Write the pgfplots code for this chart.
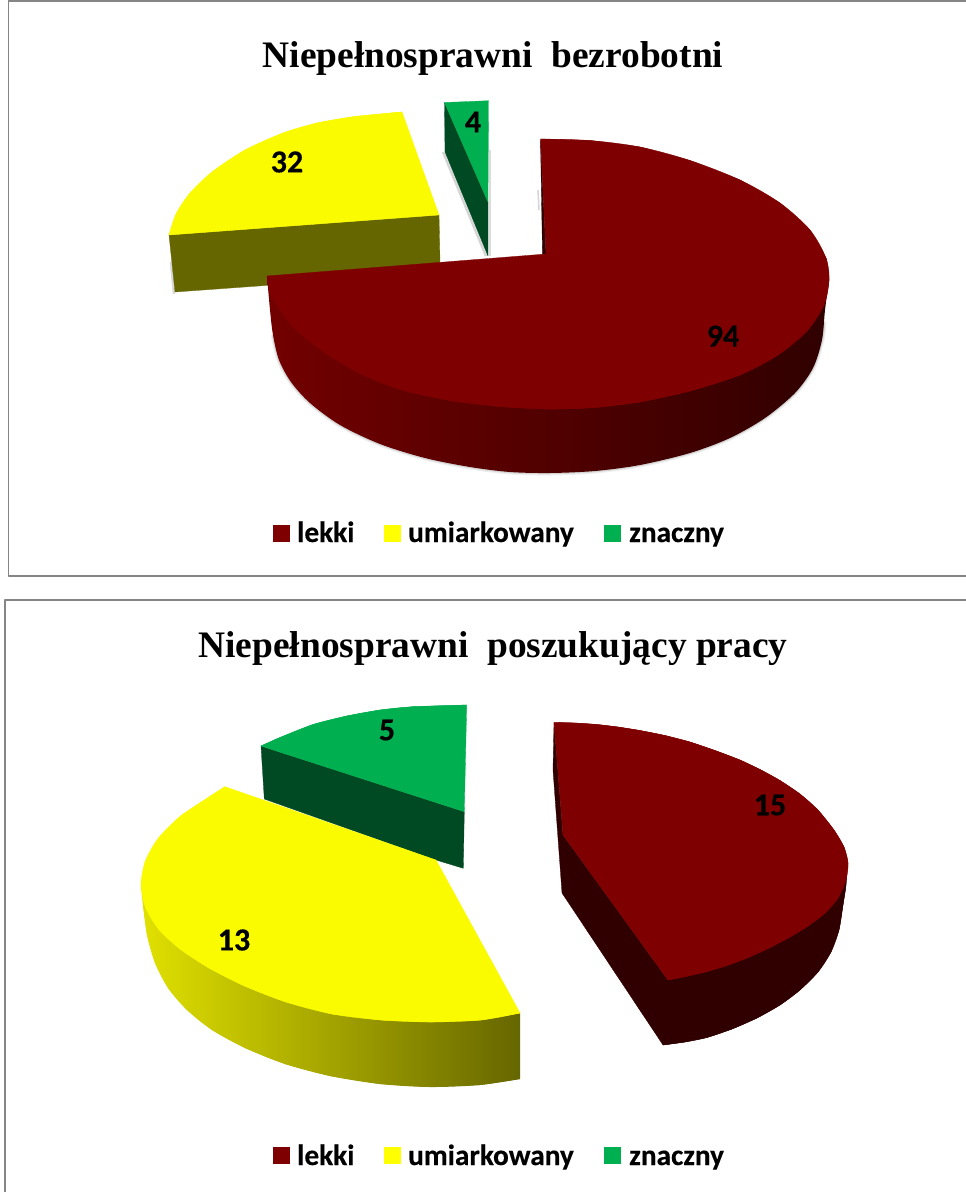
\documentclass[border=0pt]{standalone}
\usepackage{pgfplots}
\pgfplotsset{compat=1.18}
\usepackage{fontspec}
\setmainfont[BoldFeatures={FakeBold=0.35}]{Carlito}
\newfontfamily\titlefont{Liberation Serif}
\definecolor{rd}{HTML}{7F0000}
\definecolor{rdd}{HTML}{300000}
\definecolor{yl}{HTML}{FBFB00}
\definecolor{yll}{HTML}{FFFF00}
\definecolor{yld}{HTML}{666600}
\definecolor{gr}{HTML}{00B050}
\definecolor{grd}{HTML}{004A23}
\definecolor{fr}{HTML}{858585}
\pgfplotstableread{
x y
273 335
279 360
291 382
310 403
340 425
380 444
425 458
470 467
510 472
550 473
595 471
640 465
690 453
730 438
765 418
795 393
813 368
822 340
824 322
}\rimA
\newcommand{\ttl}[1]{{\titlefont\bfseries\fontsize{37.4}{42}\selectfont #1}}
\newcommand{\lab}[1]{{\bfseries\fontsize{29.3}{34}\selectfont #1}}
\newcommand{\val}[1]{{\bfseries\fontsize{32}{36}\selectfont #1}}
\begin{document}
\begin{tikzpicture}
\begin{axis}[hide axis,scale only axis,width=966pt,height=1192pt,
  xmin=0,xmax=966,ymin=0,ymax=1192,y dir=reverse,clip=true,no markers,
  every axis plot/.append style={line join=round}]
\addplot[draw=none,fill=white] coordinates {(0,0)(966,0)(966,1192)(0,1192)} --cycle;
% frames
\addplot[draw=fr,line width=1.6pt] coordinates {(966,1)(8.5,1)(8.5,576)(966,576)};
\addplot[draw=fr,line width=1.6pt] coordinates {(5,1192)(5,600)(966,600)};
% ---- chart 1
\addplot[draw=gray!60,opacity=.5,line width=2.5pt] coordinates {(174,294)(171,262)};
\addplot[draw=yld,fill=yld,line width=.3pt] coordinates {(169,235)(439,215)(440,262)(440,275)(300,283)(175,292)} --cycle;
\addplot[draw=yl,fill=yl,line width=.3pt] coordinates {(169,235)(176,214)(190,193)(212,172)(245,150)(283,133)(317,123)(355,116.5)(402,112)(439,215)} --cycle;
\addplot[smooth,draw=yl,fill=yl,line width=.3pt] coordinates {(169,235)(176,214)(190,193)(212,172)(245,150)(283,133)(317,123)(355,116.5)(402,112)};
\addplot[draw=gray!55,opacity=.6,line width=2.5pt] coordinates {(443,152)(486,256)};
\addplot[draw=gray!45,opacity=.6,line width=2.5pt] coordinates {(490,150)(490,256)};
\addplot[draw=grd,fill=grd,line width=.3pt] coordinates {(444.5,102.5)(488,202)(488,256)(445,152)} --cycle;
\addplot[draw=gr,fill=gr,line width=.3pt] coordinates {(444.5,102.5)(488.5,100.7)(488,202)} --cycle;
\addplot[smooth,draw=gray!60,opacity=.2,line width=5pt] table {\rimA};
\addplot[smooth,draw=gray!60,opacity=.4,line width=2.5pt] table {\rimA};
\addplot[draw=gray!55,opacity=.6,line width=1.5pt] coordinates {(538,190)(539,210)};
\addplot[smooth,draw=none,left color=rd!90!black,middle color=rd!60!black,right color=rdd] coordinates {
(267,276)(270,310)(273,335)(279,360)(291,382)(310,403)(340,425)(380,444)(425,458)(470,467)(510,472)(550,473)(595,471)(640,465)(690,453)(730,438)(765,418)(795,393)(813,368)(822,340)(825,310)(829,280)};
\addplot[draw=rdd,fill=rdd,line width=.3pt] coordinates {(540.5,140)(546,254)(542.5,254.5)} --cycle;
\addplot[draw=rd,fill=rd,line width=.3pt] coordinates {
(540.5,139)(590,140.5)(640,147)(690,160.5)(740,180)(780,203)(810,230)(826,258)(829,280)(824,305)(807,331)(778,355)(740,375)(690,391)(640,402)(595,407.5)(550,409)(500,406.5)(450,400.5)(400,389.5)(360,373.5)(327,354)(297,331)(280,310)(270,293)(267,276)(546,254)} --cycle;
\addplot[smooth,draw=rd,fill=rd,line width=.3pt] coordinates {
(540.5,139)(590,140.5)(640,147)(690,160.5)(740,180)(780,203)(810,230)(826,258)(829,280)(824,305)};
\addplot[smooth,draw=rd,fill=rd,line width=.3pt] coordinates {
(826,258)(829,280)(824,305)(807,331)(778,355)(740,375)(690,391)(640,402)(595,407.5)(550,409)(500,406.5)};
\addplot[smooth,draw=rd,fill=rd,line width=.3pt] coordinates {
(595,407.5)(550,409)(500,406.5)(450,400.5)(400,389.5)(360,373.5)(327,354)(297,331)(280,310)(270,293)(267,276)};
% ---- chart 2
\addplot[draw=grd,fill=grd,line width=.3pt] coordinates {(261,746)(464.3,811.7)(463.3,868.3)(436,860)(264.3,799)} --cycle;
\addplot[draw=gr,fill=gr,line width=.3pt] coordinates {(261,746)(280,737.5)(313,724.5)(346.7,716)(380,710)(413,706.7)(466.7,705)(464.3,811.7)} --cycle;
\addplot[smooth,draw=gr,fill=gr,line width=.3pt] coordinates {(261,746)(280,737.5)(313,724.5)(346.7,716)(380,710)(413,706.7)(466.7,705)};
\addplot[draw=none,left color=yll!88!black,middle color=yll!72!black,right color=yld] coordinates {
(520,1013)(481,1020)(431,1022)(381,1020)(332,1014)(286,1002)(244.6,986)(209,968)(180,949)(158.5,929)(145.4,907)(141.5,885)
(143,905)(147,935)(155,963)(168,988)(187,1010)(212,1030)(245,1048)(285,1064)(330,1076)(380,1084)(430,1087)(480,1085)(520,1079)} --cycle;
\addplot[smooth,draw=none,left color=yll!88!black,middle color=yll!72!black,right color=yld] coordinates {
(141.5,885)(143,905)(147,935)(155,963)(168,988)(187,1010)(212,1030)(245,1048)(285,1064)(330,1076)(380,1084)(430,1087)(480,1085)(520,1079)};
\addplot[draw=yl,fill=yl,line width=.3pt] coordinates {
(225,786.7)(436,860)(520,1013)(481,1020)(431,1022)(381,1020)(332,1014)(286,1002)(244.6,986)(209,968)(180,949)(158.5,929)(145.4,907)(141,885)(145.4,861)(158.5,838)(180,816.5)(209,797)} --cycle;
\addplot[smooth,draw=yl,fill=yl,line width=.3pt] coordinates {
(520,1013)(481,1020)(431,1022)(381,1020)(332,1014)(286,1002)(244.6,986)(209,968)(180,949)(158.5,929)(145.4,907)(141,885)(145.4,861)(158.5,838)(180,816.5)(209,797)(225,786.7)};
\addplot[draw=rdd,fill=rdd,line width=.3pt] coordinates {
(554,722.5)(563,835)(668,980)(847,858)(846,885)(843,905)(839,930)(831,952)(818,972)(800,990)(780,1005)(757,1018)(732,1029)(707,1037.5)(685,1042)(663,1045)(562,893)(553,770)} --cycle;
\addplot[smooth,draw=rdd,fill=rdd,line width=.3pt] coordinates {
(847,860)(846,885)(843,905)(839,930)(831,952)(818,972)(800,990)(780,1005)(757,1018)(732,1029)(707,1037.5)(685,1042)(663,1045)};
\addplot[draw=rd,fill=rd,line width=.3pt] coordinates {
(554,722.5)(575,723)(597,724.5)(618,727)(640,730.5)(665,735.5)(690,742)(715,750.5)(740,760)(761,770)(780,780.5)(800,794)(818,810)(834,830)(844,847)(848,863)(846,880)(838,898)(825,913)(808,926)(790,937)(769,948)(747,958)(727,965.5)(707,971.5)(688,976)(668,980)(563,835)} --cycle;
\addplot[smooth,draw=rd,fill=rd,line width=.3pt] coordinates {
(554,722.5)(575,723)(597,724.5)(618,727)(640,730.5)(665,735.5)(690,742)(715,750.5)(740,760)(761,770)(780,780.5)(800,794)(818,810)(834,830)(844,847)(848,863)(846,880)(838,898)(825,913)(808,926)(790,937)(769,948)(747,958)(727,965.5)(707,971.5)(688,976)(668,980)};
% ---- legend swatches
\addplot[draw=none,fill=rd] coordinates {(273,525)(290,525)(290,542)(273,542)} --cycle;
\addplot[draw=none,fill=yll] coordinates {(384,525)(401,525)(401,542)(384,542)} --cycle;
\addplot[draw=none,fill=gr] coordinates {(604,525)(621,525)(621,542)(604,542)} --cycle;
\addplot[draw=none,fill=rd] coordinates {(273,1147)(290,1147)(290,1164)(273,1164)} --cycle;
\addplot[draw=none,fill=yll] coordinates {(384,1147)(401,1147)(401,1164)(384,1164)} --cycle;
\addplot[draw=none,fill=gr] coordinates {(604,1147)(621,1147)(621,1164)(604,1164)} --cycle;
% ---- text
\node at (axis cs:493,59) {\ttl{Niepełnosprawni\ \ bezrobotni}};
\node at (axis cs:493,649) {\ttl{Niepełnosprawni\ \ poszukujący pracy}};
\node at (axis cs:723,336) {\val{94}};
\node at (axis cs:287,162) {\val{32}};
\node at (axis cs:473,122) {\val{4}};
\node at (axis cs:770,805) {\val{15}};
\node at (axis cs:234,940) {\val{13}};
\node at (axis cs:387,730) {\val{5}};
\node[anchor=base west,inner sep=0pt] at (axis cs:297,542) {\lab{lekki}};
\node[anchor=base west,inner sep=0pt] at (axis cs:408,542) {\lab{umiarkowany}};
\node[anchor=base west,inner sep=0pt] at (axis cs:629,542) {\lab{znaczny}};
\node[anchor=base west,inner sep=0pt] at (axis cs:297,1165) {\lab{lekki}};
\node[anchor=base west,inner sep=0pt] at (axis cs:408,1165) {\lab{umiarkowany}};
\node[anchor=base west,inner sep=0pt] at (axis cs:629,1165) {\lab{znaczny}};
\end{axis}
\end{tikzpicture}
\end{document}
